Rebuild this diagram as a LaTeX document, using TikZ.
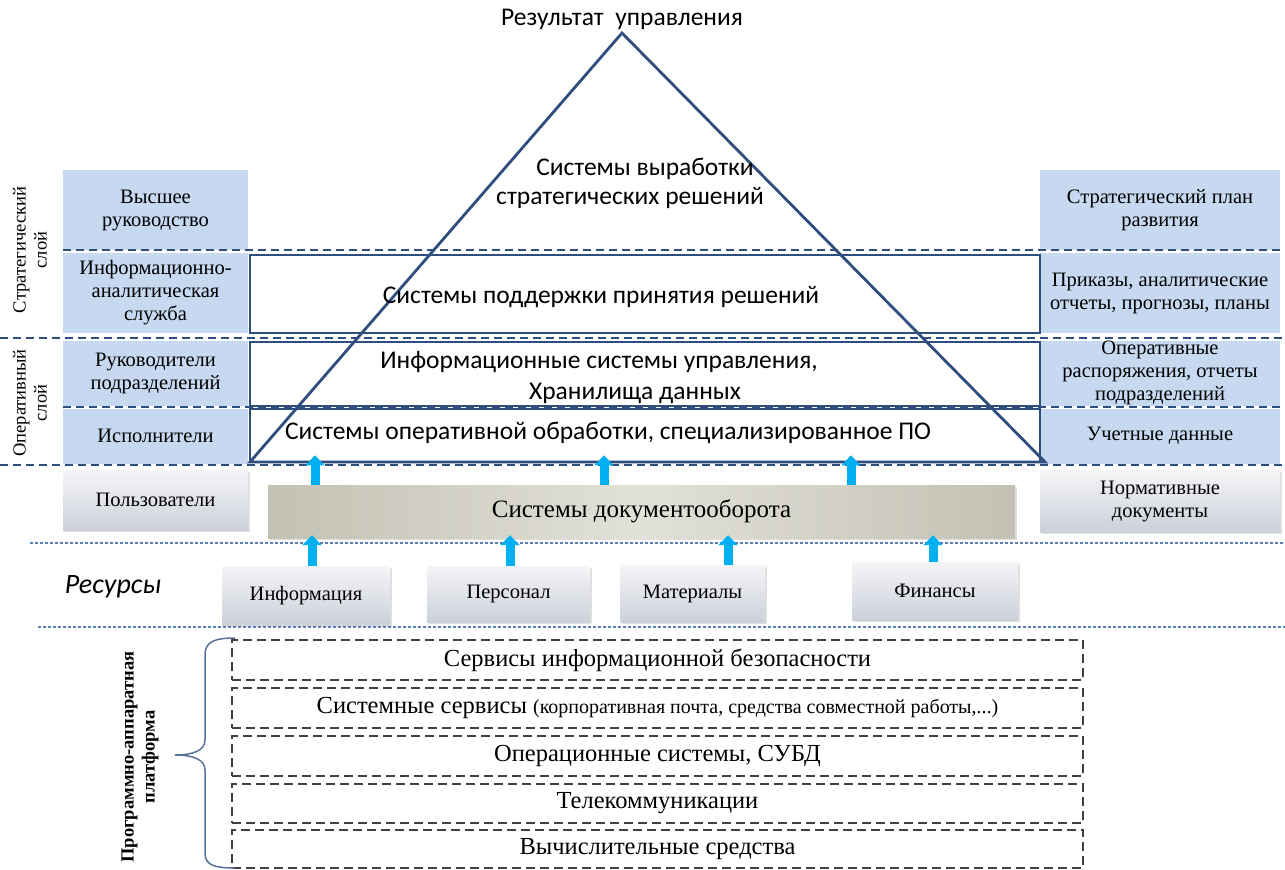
\documentclass[tikz,border=0pt]{standalone}
\usepackage{fontspec}
\setmainfont{Liberation Serif}
\newfontfamily\calfont{Carlito}
\usetikzlibrary{arrows.meta,shadows,calc}
\definecolor{lblue}{HTML}{C6D9F1}
\definecolor{dblue}{HTML}{2E4E7E}
\definecolor{arrcyan}{HTML}{00B0F0}
\definecolor{dotblue}{HTML}{5B7DB1}
\definecolor{gtop}{HTML}{F5F5F7}
\definecolor{gbot}{HTML}{CBD0DA}
\definecolor{docl}{HTML}{C3C1B3}
\definecolor{docm}{HTML}{E2E1D8}
\definecolor{dgray}{HTML}{404040}
\tikzset{
  lbox/.style={rectangle, fill=lblue, draw=none, align=center, inner sep=0pt,
    font=\fontsize{20.5}{23}\selectfont},
  gbox/.style={rectangle, top color=gtop, bottom color=gbot, draw=none, align=center, inner sep=0pt,
    font=\fontsize{20.5}{23}\selectfont,
    drop shadow={shadow xshift=2pt, shadow yshift=-2pt, opacity=0.25}},
  sysrect/.style={rectangle, draw=dblue, line width=2.8pt, inner sep=0pt, minimum width=790pt},
  sep/.style={draw=dblue, line width=2pt, dash pattern=on 8pt off 5pt},
  dotsep/.style={draw=dotblue, line width=1.6pt, dash pattern=on 3pt off 2pt},
  platbox/.style={rectangle, draw=dgray, line width=1.6pt, dash pattern=on 9pt off 5pt, fill=white,
    minimum width=851pt, inner sep=0pt, font=\fontsize{24.5}{26}\selectfont},
  upar/.style={draw=arrcyan, line width=9pt, -{Triangle[width=19pt,length=10pt]}},
  sanslbl/.style={font=\calfont\fontsize{25.5}{29}\selectfont, inner sep=0pt},
}
\begin{document}
\begin{tikzpicture}[x=1pt,y=-1pt]
\useasboundingbox (0,0) rectangle (1285,870);
\fill[white] (0,0) rectangle (1285,870);

% left column
\node[lbox, minimum width=185pt, minimum height=80pt] (vr) at (155.5,210) {Высшее\\руководство};
\node[lbox, minimum width=185pt, minimum height=80pt] (ia) at (155.5,293) {Информационно-\\аналитическая\\служба};
\node[lbox, minimum width=185pt, minimum height=65pt] (rp) at (155.5,373) {Руководители\\подразделений};
\node[lbox, minimum width=185pt, minimum height=55pt] (isp) at (155.5,436) {Исполнители};
\node[gbox, minimum width=185pt, minimum height=60pt] (pol) at (155.5,500) {Пользователи};

% right column
\node[lbox, minimum width=240pt, minimum height=80pt] (spr) at (1160,210) {Стратегический план\\развития};
\node[lbox, minimum width=240pt, minimum height=80pt] (prk) at (1160,293) {Приказы, аналитические\\отчеты, прогнозы, планы};
\node[lbox, minimum width=240pt, minimum height=65pt] (opr) at (1160,373) {Оперативные\\распоряжения, отчеты\\подразделений};
\node[lbox, minimum width=240pt, minimum height=55pt] (uch) at (1160,436) {Учетные данные};
\node[gbox, minimum width=240pt, minimum height=62pt] (nrm) at (1160,501) {Нормативные\\документы};

% layer labels
\node[rotate=90, align=center, font=\fontsize{18.5}{21}\selectfont] (strl) at (30,250) {Стратегический\\слой};
\node[rotate=90, align=center, font=\fontsize{18.5}{21}\selectfont] (oprl) at (30,403) {Оперативный\\слой};

% separators
\draw[sep] (63,250) -- (1285,250);
\draw[sep] (0,338) -- (1285,338);
\draw[sep] (63,407) -- (1285,407);
\draw[sep] (0,465) -- (1285,465);

% system rectangles
\node[sysrect, minimum height=78pt] (r1) at (645,294) {};
\node[sysrect, minimum height=64pt] (r2) at (645,374) {};
\node[sysrect, minimum height=53pt] (r3) at (645,435.5) {};

% pyramid
\coordinate (apex) at (622,33);
\coordinate (bl) at (250,462);
\coordinate (br) at (1045,462);
\draw[dblue, line width=2.8pt, line join=miter] (bl) -- (apex) -- (br) -- cycle;

\node[sanslbl] (res) at (622,19) {Результат\ \ управления};
\node[sanslbl, align=center] (vyr) at (630,183) {\hspace*{30pt}Системы выработки\\стратегических решений};
\node[sanslbl] (t1) at (601,297) {Системы поддержки принятия решений};
\node[sanslbl] (t2a) at (599,362) {Информационные системы управления,};
\node[sanslbl] (t2b) at (635,393) {Хранилища данных};
\node[sanslbl] (t3) at (608,433) {Системы оперативной обработки, специализированное ПО};

% documents
\node[rectangle, left color=docl, right color=docl, middle color=docm, minimum width=747pt, minimum height=53pt,
  inner sep=0pt, font=\fontsize{25}{27}\selectfont,
  drop shadow={shadow xshift=2pt, shadow yshift=-2pt, opacity=0.25}] (docs) at (641.5,511.5) {Системы документооборота};

% resource lines
\draw[dotsep] (30,543) -- (1285,543);
\draw[dotsep] (38,627) -- (1285,627);

\node[font=\calfont\itshape\fontsize{28}{30}\selectfont] (resl) at (113,587) {Ресурсы};
\node[gbox, minimum width=168pt, minimum height=59pt] (inf) at (306,595.5) {Информация};
\node[gbox, minimum width=163pt, minimum height=56pt] (per) at (508.5,594) {Персонал};
\node[gbox, minimum width=145pt, minimum height=57pt] (mat) at (692.5,593.5) {Материалы};
\node[gbox, minimum width=166pt, minimum height=58pt] (fin) at (935,591) {Финансы};

% arrows docs -> systems
\coordinate (a1) at (315,0);
\coordinate (a2) at (604,0);
\coordinate (a3) at (851,0);
\draw[upar] (docs.north -| a1) -- ([yshift=8pt]r3.south -| a1);
\draw[upar] (docs.north -| a2) -- ([yshift=8pt]r3.south -| a2);
\draw[upar] (docs.north -| a3) -- ([yshift=8pt]r3.south -| a3);

% arrows resources -> docs
\coordinate (b1) at (312,0);
\coordinate (b2) at (510,0);
\coordinate (b3) at (728,0);
\coordinate (b4) at (933,0);
\draw[upar] (inf.north -| b1) -- ([yshift=3pt]docs.south -| b1);
\draw[upar] (per.north -| b2) -- ([yshift=3pt]docs.south -| b2);
\draw[upar] (mat.north -| b3) -- ([yshift=3pt]docs.south -| b3);
\draw[upar] (fin.north -| b4) -- ([yshift=3pt]docs.south -| b4);

% platform
\node[platbox, minimum height=40pt] (p1) at (657.5,660) {Сервисы информационной безопасности};
\node[platbox, minimum height=40pt] (p2) at (657.5,708) {Системные сервисы {\fontsize{20}{22}\selectfont(корпоративная почта, средства совместной работы,...)}};
\node[platbox, minimum height=40pt] (p3) at (657.5,756) {Операционные системы, СУБД};
\node[platbox, minimum height=39pt] (p4) at (657.5,803.5) {Телекоммуникации};
\node[platbox, minimum height=38pt] (p5) at (657.5,849) {Вычислительные средства};

% brace
\draw[dblue!80, line width=1.5pt]
  (235,638) .. controls (214,638) and (205,642) .. (205,655) -- (205,740)
  .. controls (205,751) and (192,755) .. (175,755)
  .. controls (192,755) and (205,759) .. (205,770) -- (205,853)
  .. controls (205,865) and (214,868) .. (235,868);
\node[rotate=90, align=center, font=\bfseries\fontsize{18.5}{21}\selectfont] (plat) at (140,757) {Программно-аппаратная\\платформа};
\end{tikzpicture}
\end{document}
